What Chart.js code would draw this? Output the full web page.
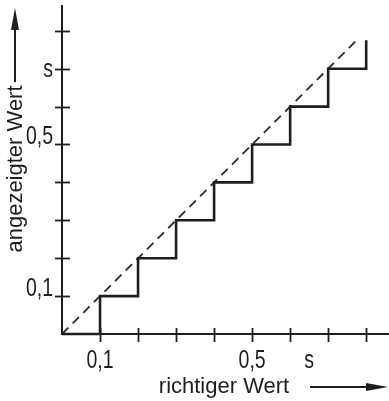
<!DOCTYPE html>
<html>
<head>
<meta charset="utf-8">
<script src="https://cdn.jsdelivr.net/npm/chart.js@4"></script>
<style>
  html, body { margin: 0; padding: 0; background: #fff; }
  #wrap { width: 389px; height: 401px; position: relative; }
</style>
</head>
<body>
<div id="wrap"><canvas id="chart"></canvas></div>
<script>
// ---- data ----
const stepX = [0, 0.1, 0.2, 0.3, 0.4, 0.5, 0.6, 0.7, 0.8];
const stepY = [0, 0.1, 0.2, 0.3, 0.4, 0.5, 0.6, 0.7, 0.775];
const idealX = [0, 0.78];
const idealY = [0, 0.78];

const xTicks = [0.1, 0.2, 0.3, 0.4, 0.5, 0.6, 0.7, 0.8];
const yTicks = [0.1, 0.2, 0.3, 0.4, 0.5, 0.6, 0.7, 0.8];
const xLabelValues = [0.1, 0.5, 0.65];
const xLabelTexts = ["0,1", "0,5", "s"];
const yLabelValues = [0.1, 0.5, 0.7];
const yLabelTexts = ["0,1", "0,5", "s"];

const xTitle = "richtiger Wert";
const yTitle = "angezeigter Wert";

const INK = "#1e1e1e";

// draw a horizontally squeezed text (the original lettering is narrow)
function squeezed(ctx, text, x, y, align, base) {
  ctx.save();
  ctx.translate(x, y);
  ctx.scale(0.78, 1);
  ctx.textAlign = align;
  ctx.textBaseline = base;
  ctx.fillText(text, 0, 0);
  ctx.restore();
}

function arrowHead(ctx, x, y, dx, dy) {
  // tip at (x,y), pointing along (dx,dy)
  const len = 22, half = 4;
  const bx = x - dx * len, by = y - dy * len;
  ctx.beginPath();
  ctx.moveTo(x, y);
  ctx.lineTo(bx - dy * half, by + dx * half);
  ctx.lineTo(bx + dy * half, by - dx * half);
  ctx.closePath();
  ctx.fill();
}

const axesPlugin = {
  id: "axes",
  beforeDatasetsDraw(chart) {
    const { ctx, chartArea: a, scales: { x, y } } = chart;
    ctx.save();
    ctx.strokeStyle = INK;
    ctx.fillStyle = INK;
    ctx.lineWidth = 2;

    // axis lines
    ctx.beginPath();
    ctx.moveTo(a.left, a.top);
    ctx.lineTo(a.left, a.bottom);
    ctx.lineTo(a.right, a.bottom);
    ctx.stroke();

    // ticks cross the axes
    ctx.lineWidth = 1.8;
    xTicks.forEach(v => {
      const px = Math.round(x.getPixelForValue(v)) + 0.5;
      ctx.beginPath();
      ctx.moveTo(px, a.bottom - 6);
      ctx.lineTo(px, a.bottom + 8);
      ctx.stroke();
    });
    yTicks.forEach(v => {
      const py = Math.round(y.getPixelForValue(v)) + 0.5;
      ctx.beginPath();
      ctx.moveTo(a.left - 7, py);
      ctx.lineTo(a.left + 8, py);
      ctx.stroke();
    });

    // tick labels
    ctx.font = "25px 'Liberation Sans Narrow', 'Liberation Sans', sans-serif";
    xLabelValues.forEach((v, i) => {
      squeezed(ctx, xLabelTexts[i], x.getPixelForValue(v), a.bottom + 34, "center", "alphabetic");
    });
    yLabelValues.forEach((v, i) => {
      const t = yLabelTexts[i];
      const py = y.getPixelForValue(v) + (t === "s" ? 8 : 0);
      squeezed(ctx, t, a.left - 9, py, "right", "alphabetic");
    });

    // axis titles with arrows
    ctx.font = "22px 'Liberation Sans', Arial, sans-serif";
    ctx.textAlign = "center";
    ctx.textBaseline = "alphabetic";
    ctx.fillText(xTitle, 224, 393);
    ctx.lineWidth = 2;
    ctx.beginPath();
    ctx.moveTo(310, 387);
    ctx.lineTo(372, 387);
    ctx.stroke();
    arrowHead(ctx, 388, 387, 1, 0);

    ctx.save();
    ctx.translate(22, 169);
    ctx.rotate(-Math.PI / 2);
    ctx.fillText(yTitle, 0, 0);
    ctx.restore();
    ctx.beginPath();
    ctx.moveTo(15, 82);
    ctx.lineTo(15, 24);
    ctx.stroke();
    arrowHead(ctx, 15, 8, 0, -1);

    ctx.restore();
  }
};

new Chart(document.getElementById("chart"), {
  type: "scatter",
  data: {
    datasets: [
      {
        data: stepX.map((v, i) => ({ x: v, y: stepY[i] })),
        showLine: true,
        stepped: "before",
        borderColor: INK,
        borderWidth: 2.6,
        pointRadius: 0,
        clip: false
      },
      {
        data: idealX.map((v, i) => ({ x: v, y: idealY[i] })),
        showLine: true,
        borderColor: "#2a2a2a",
        borderWidth: 1.8,
        borderDash: [9, 6],
        pointRadius: 0,
        clip: false
      }
    ]
  },
  options: {
    responsive: true,
    maintainAspectRatio: false,
    animation: false,
    layout: { padding: { left: 62, right: 0, top: 5, bottom: 67 } },
    plugins: { legend: { display: false }, tooltip: { enabled: false } },
    scales: {
      x: { type: "linear", min: 0, max: 0.86, display: false },
      y: { type: "linear", min: 0, max: 0.868, display: false }
    }
  },
  plugins: [axesPlugin]
});
</script>
</body>
</html>
